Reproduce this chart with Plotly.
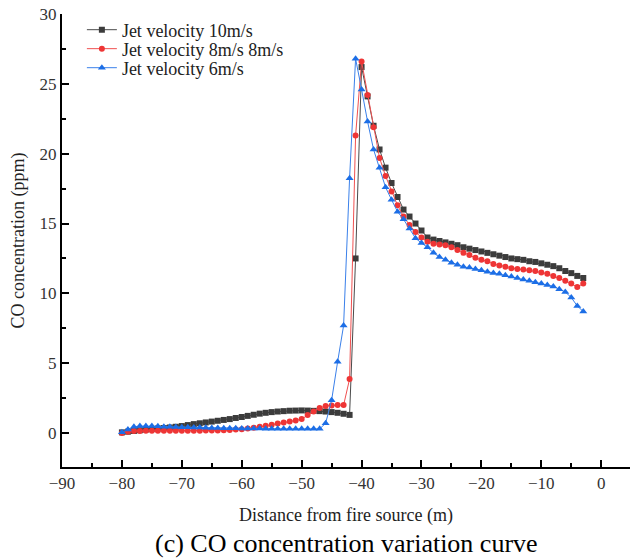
import plotly.graph_objects as go

distance = list(range(-80, -2))  # -80 .. -3 m

co_10 = [0.05, 0.1, 0.15, 0.2, 0.25, 0.3, 0.33, 0.36, 0.4, 0.45,
         0.5, 0.57, 0.64, 0.7, 0.76, 0.82, 0.88, 0.94, 1.0, 1.08,
         1.15, 1.23, 1.31, 1.39, 1.45, 1.5, 1.54, 1.57, 1.6, 1.61,
         1.62, 1.61, 1.59, 1.57, 1.54, 1.5, 1.45, 1.38, 1.3, 12.5,
         26.2, 24.1, 22.0, 20.3, 19.0, 17.9, 16.9, 16.0, 15.5, 15.0,
         14.5, 14.0, 13.85, 13.75, 13.65, 13.55, 13.45, 13.3, 13.2, 13.1,
         13.0, 12.9, 12.8, 12.7, 12.6, 12.5, 12.45, 12.4, 12.3, 12.25,
         12.15, 12.05, 11.95, 11.8, 11.6, 11.45, 11.25, 11.1]

co_8 = [0.0, 0.1, 0.15, 0.15, 0.16, 0.16, 0.17, 0.17, 0.17, 0.17,
        0.17, 0.17, 0.17, 0.17, 0.18, 0.18, 0.18, 0.2, 0.22, 0.25,
        0.28, 0.32, 0.38, 0.45, 0.52, 0.6, 0.68, 0.75, 0.82, 0.9,
        1.0, 1.3, 1.55, 1.8, 1.93, 1.98, 2.0, 2.0, 3.87, 21.3,
        26.6, 24.2, 21.9, 19.7, 18.4, 17.3, 16.3, 15.5, 14.9, 14.4,
        14.0, 13.7, 13.55, 13.5, 13.45, 13.3, 13.1, 12.9, 12.75, 12.55,
        12.4, 12.3, 12.1, 12.0, 11.9, 11.8, 11.75, 11.7, 11.65, 11.6,
        11.5, 11.4, 11.25, 11.1, 10.9, 10.7, 10.45, 10.7]

co_6 = [0.05, 0.25, 0.45, 0.5, 0.5, 0.5, 0.48, 0.46, 0.45, 0.43,
        0.42, 0.41, 0.4, 0.39, 0.38, 0.37, 0.36, 0.35, 0.35, 0.34,
        0.33, 0.33, 0.32, 0.32, 0.31, 0.31, 0.3, 0.3, 0.3, 0.3,
        0.3, 0.3, 0.3, 0.3, 0.7, 2.35, 5.1, 7.7, 18.25, 26.8,
        24.6, 22.3, 20.3, 19.0, 17.6, 16.7, 15.85, 15.3, 14.65, 13.95,
        13.6, 13.3, 12.9, 12.6, 12.4, 12.2, 12.05, 11.9, 11.85, 11.75,
        11.65, 11.55, 11.45, 11.4, 11.3, 11.2, 11.1, 11.0, 10.9, 10.8,
        10.7, 10.6, 10.5, 10.3, 10.1, 9.7, 9.1, 8.7]

series_names = ["Jet velocity 10m/s", "Jet velocity 8m/s 8m/s", "Jet velocity 6m/s"]
x_ticks = [-90, -80, -70, -60, -50, -40, -30, -20, -10, 0]
y_ticks = [0, 5, 10, 15, 20, 25, 30]

FONT = "Liberation Serif, Times New Roman, serif"

fig = go.Figure()
styles = [
    (co_10, "#4a4a4a", "#3c3c3c", "square", 6),
    (co_8, "#f05050", "#ee3535", "circle", 6),
    (co_6, "#3a80ea", "#1c6ee6", "triangle-up", 7),
]
legend_ids = ["legend", "legend2", "legend3"]
legend_y = [0.9647, 0.9228, 0.8808]
for name, (vals, lcol, mcol, sym, sz), lid in zip(series_names, styles, legend_ids):
    fig.add_trace(go.Scatter(
        x=distance, y=vals, name=name, mode="lines+markers",
        line=dict(color=lcol, width=1),
        marker=dict(symbol=sym, size=sz, color=mcol, line=dict(width=0)),
        legend=lid,
    ))

legend_common = dict(x=0.035, xanchor="left", yanchor="middle",
                     bgcolor="rgba(0,0,0,0)", borderwidth=0,
                     font=dict(family=FONT, size=18, color="#222222"))

fig.update_layout(
    width=630, height=559,
    margin=dict(l=62, r=0, t=14, b=92, autoexpand=False),
    paper_bgcolor="white", plot_bgcolor="white",
    font=dict(family=FONT, size=17, color="#333333"),
    showlegend=True,
    legend=dict(y=legend_y[0], **legend_common),
    legend2=dict(y=legend_y[1], **legend_common),
    legend3=dict(y=legend_y[2], **legend_common),
    xaxis=dict(
        range=[-90, 4.8], tickvals=x_ticks, ticktext=[str(v).replace("-", "\u2212") for v in x_ticks],
        showline=True, linecolor="black", linewidth=2, mirror=False,
        ticks="inside", ticklen=7, tickwidth=1.5, tickcolor="black",
        minor=dict(dtick=5, ticks="inside", ticklen=4, tickwidth=1.5, tickcolor="black", showgrid=False),
        showgrid=False, zeroline=False, automargin=False,
        tickfont=dict(family=FONT, size=17, color="#333333"),
        title=dict(text="Distance from fire source (m)", font=dict(family=FONT, size=18, color="#222222"), standoff=16),
    ),
    yaxis=dict(
        range=[-2.43, 30], tickvals=y_ticks,
        showline=True, linecolor="black", linewidth=2, mirror=False,
        ticks="inside", ticklen=7, tickwidth=1.5, tickcolor="black",
        minor=dict(dtick=2.5, ticks="inside", ticklen=4, tickwidth=1.5, tickcolor="black", showgrid=False),
        showgrid=False, zeroline=False, automargin=False,
        tickfont=dict(family=FONT, size=17, color="#333333"),
        title=dict(text="CO concentration (ppm)", font=dict(family=FONT, size=18, color="#222222"), standoff=10),
    ),
    annotations=[dict(
        text="(c) CO concentration variation curve", xref="paper", yref="paper",
        x=0.5, y=-0.168, xanchor="center", yanchor="middle", showarrow=False,
        font=dict(family=FONT, size=26, color="black"),
    )],
)

fig.write_html("out.html", config={"displayModeBar": False},
               post_script="document.body.style.margin='0';document.body.style.overflow='hidden';")
